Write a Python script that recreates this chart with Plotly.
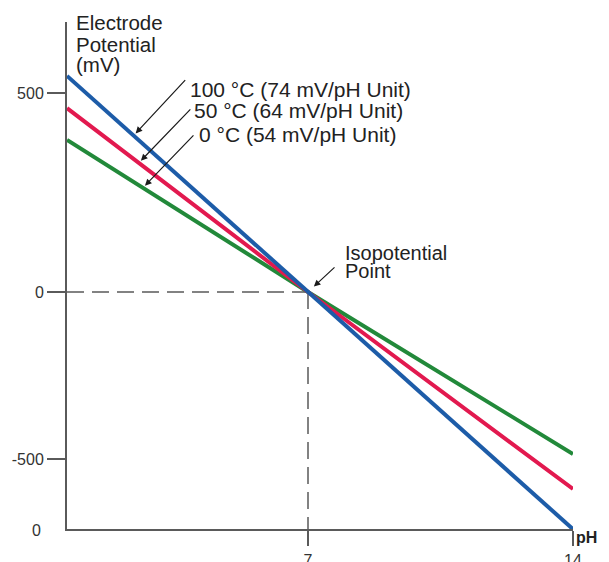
import numpy as np
import plotly.graph_objects as go

# ---------------- data ----------------
PH = [0.634, 7, 14]                      # pH at y-axis, isopotential point, right end
MV_100C = [543, 0, -596]                 # 100 °C line (mV)
MV_50C = [462, 0, -495]                  # 50 °C line (mV)
MV_0C = [382, 0, -407]                   # 0 °C line (mV)

SERIES_NAMES = ["0 °C (54 mV/pH Unit)", "50 °C (64 mV/pH Unit)", "100 °C (74 mV/pH Unit)"]
SERIES_VALUES = [MV_0C, MV_50C, MV_100C]
SERIES_COLORS = ["#22893a", "#e2194f", "#1d5ca8"]

ISO_PH, ISO_MV = 7, 0
X_RANGE = [0.634, 14]
Y_RANGE = [-595.5, 678.4]

X_TICK_VALS = [7, 14]
X_TICK_TEXT = ["7", "14"]
Y_TICK_VALS = [500, 0, -420]
Y_TICK_TEXT = ["500", "0", "-500"]
Y_BOTTOM_LABEL = "0"

Y_TITLE_LINES = ["Electrode", "Potential", "(mV)"]
X_TITLE = "pH"
ISO_LINES = ["Isopotential", "Point"]

# ---------------- layout helpers ----------------
# the page body has an 8px default margin; positions below are page pixels
OFF = 8
W, H = 609 - OFF, 562 - OFF
PLOT_L, PLOT_R, PLOT_T, PLOT_B = 67, 573, 22, 529      # page pixels of plot area
L = PLOT_L - OFF
T = PLOT_T - OFF
R = W - (PLOT_R - OFF)
B = H - (PLOT_B - OFF)
PW, PHh = PLOT_R - PLOT_L, PLOT_B - PLOT_T


def px(x):
    return (x - PLOT_L) / PW


def py(y):
    return (PLOT_B - y) / PHh


FONT = "Liberation Sans, Arial, sans-serif"
TXT = "#222222"
AX = "#5a5a5a"

fig = go.Figure()

for name, vals, col in zip(SERIES_NAMES, SERIES_VALUES, SERIES_COLORS):
    fig.add_trace(go.Scatter(x=PH, y=vals, mode="lines", name=name,
                             line=dict(color=col, width=4), hoverinfo="skip"))

# dashed guide lines through the isopotential point
dash = dict(color=AX, width=1.5, dash="17px,8px")
fig.add_shape(type="line", x0=X_RANGE[0], x1=ISO_PH, y0=ISO_MV, y1=ISO_MV,
              xref="x", yref="y", line=dash, layer="below")
fig.add_shape(type="line", x0=ISO_PH, x1=ISO_PH, y0=ISO_MV, y1=Y_RANGE[0],
              xref="x", yref="y", line=dash, layer="below")

ann = []
# y-axis title (three lines)
for line, yc in zip(Y_TITLE_LINES, [22.5, 44.5, 65]):
    ann.append(dict(text=line, x=px(74), y=py(yc), xref="paper", yref="paper",
                    xanchor="left", yanchor="middle", showarrow=False,
                    font=dict(family=FONT, size=20.5, color=TXT)))

# series labels
label_pos = {SERIES_NAMES[2]: (188, 89.5), SERIES_NAMES[1]: (192, 110.5), SERIES_NAMES[0]: (197, 134)}
for name in SERIES_NAMES:
    x0, y0 = label_pos[name]
    ann.append(dict(text=name, x=px(x0), y=py(y0), xref="paper", yref="paper",
                    xanchor="left", yanchor="middle", showarrow=False,
                    font=dict(family=FONT, size=21, color=TXT)))

# arrows to each line
arrow_spec = [(2.393, SERIES_VALUES[2], 53, -57),
              (2.530, SERIES_VALUES[1], 53, -55),
              (2.639, SERIES_VALUES[0], 52, -54)]
for xt, vals, dx, dy in arrow_spec:
    yt = float(np.interp(xt, PH, vals))
    ann.append(dict(text="", x=xt, y=yt, xref="x", yref="y", ax=dx, ay=dy,
                    showarrow=True, arrowhead=2, arrowsize=1.1, arrowwidth=1.2,
                    arrowcolor="#1a1a1a", standoff=3))

# isopotential label + arrow
for line, yc in zip(ISO_LINES, [252.5, 270.5]):
    ann.append(dict(text=line, x=px(343), y=py(yc), xref="paper", yref="paper",
                    xanchor="left", yanchor="middle", showarrow=False,
                    font=dict(family=FONT, size=20, color=TXT)))
ann.append(dict(text="", x=ISO_PH, y=ISO_MV, xref="x", yref="y", ax=28, ay=-26,
                showarrow=True, arrowhead=2, arrowsize=1.1, arrowwidth=1.2,
                arrowcolor="#1a1a1a", standoff=8))

# x-axis title and bottom y label
ann.append(dict(text="<b>" + X_TITLE + "</b>", x=px(599), y=py(537), xref="paper", yref="paper",
                xanchor="right", yanchor="middle", showarrow=False,
                font=dict(family=FONT, size=16, color=TXT)))
ann.append(dict(text=Y_BOTTOM_LABEL, x=px(43), y=py(530), xref="paper", yref="paper",
                xanchor="right", yanchor="middle", showarrow=False,
                font=dict(family=FONT, size=16, color="#333333")))

fig.update_layout(
    width=W, height=H,
    margin=dict(l=L, r=R, t=T, b=B, autoexpand=False),
    paper_bgcolor="white", plot_bgcolor="white",
    showlegend=False,
    annotations=ann,
    xaxis=dict(range=X_RANGE, showgrid=False, zeroline=False, showline=True,
               automargin=False,
               linecolor=AX, linewidth=2, ticks="outside", ticklen=15, tickwidth=2,
               tickcolor=AX, tickvals=X_TICK_VALS, ticktext=X_TICK_TEXT,
               ticklabelstandoff=1,
               tickfont=dict(family=FONT, size=16, color="#333333")),
    yaxis=dict(range=Y_RANGE, showgrid=False, zeroline=False, showline=True,
               automargin=False,
               linecolor=AX, linewidth=2, ticks="outside", ticklen=18, tickwidth=2,
               tickcolor=AX, tickvals=Y_TICK_VALS, ticktext=Y_TICK_TEXT,
               tickfont=dict(family=FONT, size=16, color="#333333")),
)

fig.write_html("out.html")
